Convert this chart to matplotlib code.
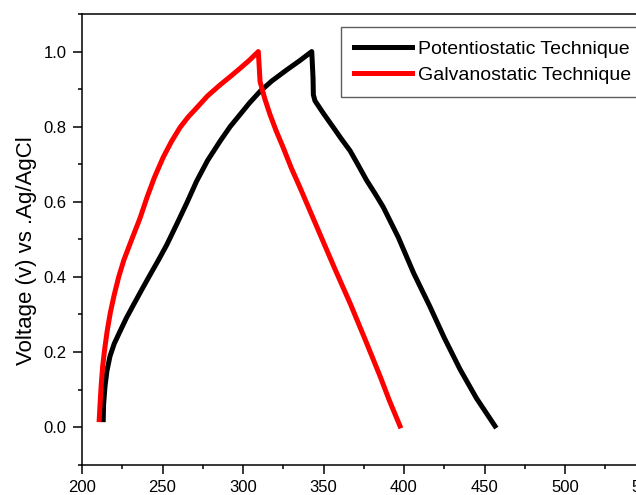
import numpy as np
import matplotlib
matplotlib.use("Agg")
import matplotlib.pyplot as plt
from matplotlib.ticker import MultipleLocator, FormatStrFormatter

# Potentiostatic technique (black)
pot_t = [213.2, 213.4, 214.3, 215.5, 217.4, 220.0, 223.6, 227.5, 231.9, 237.0,
         242.2, 247.5, 252.6, 258.8, 265.0, 271.2, 278.0, 285.7, 292.0, 298.1,
         304.0, 310.6, 318.0, 327.1, 335.0, 342.7, 343.5, 343.7, 344.7, 350.0,
         356.1, 361.0, 366.5, 371.5, 376.8, 382.0, 387.1, 396.5, 406.0, 416.1,
         425.0, 434.8, 445.0, 456.5]
pot_v = [0.02, 0.06, 0.109, 0.15, 0.189, 0.222, 0.255, 0.29, 0.325, 0.365,
         0.405, 0.445, 0.485, 0.54, 0.596, 0.655, 0.71, 0.761, 0.80, 0.832,
         0.863, 0.894, 0.922, 0.951, 0.975, 1.0, 0.93, 0.885, 0.869, 0.835,
         0.798, 0.768, 0.736, 0.698, 0.657, 0.622, 0.586, 0.505, 0.41, 0.321,
         0.238, 0.154, 0.077, 0.003]

# Galvanostatic technique (red)
gal_t = [210.7, 211.2, 211.9, 212.8, 214.0, 215.6, 217.6, 220.0, 222.8, 226.0,
         230.9, 236.0, 240.4, 245.0, 250.5, 255.5, 260.9, 266.0, 271.2, 278.0,
         285.7, 292.0, 298.1, 304.0, 309.5, 310.2, 310.6, 313.5, 316.8, 320.5,
         325.0, 330.0, 335.4, 341.5, 347.8, 357.0, 366.5, 376.0, 385.1, 391.0,
         397.5]
gal_v = [0.02, 0.06, 0.11, 0.16, 0.205, 0.255, 0.305, 0.352, 0.40, 0.445,
         0.50, 0.556, 0.612, 0.665, 0.719, 0.76, 0.798, 0.826, 0.850, 0.882,
         0.911, 0.933, 0.955, 0.977, 1.0, 0.95, 0.92, 0.875, 0.832, 0.79,
         0.744, 0.69, 0.638, 0.577, 0.514, 0.422, 0.330, 0.232, 0.136, 0.07,
         0.003]

plt.rcParams['font.family'] = ['Liberation Sans', 'DejaVu Sans']

fig = plt.figure(figsize=(6.36, 4.95), dpi=100)
ax = fig.add_axes([82 / 636, 1 - 464.7 / 495, 644 / 636, 450.7 / 495])

ax.plot(pot_t, pot_v, color='black', lw=3.6, solid_joinstyle='round',
        label='Potentiostatic Technique')
ax.plot(gal_t, gal_v, color='#ff0000', lw=3.6, solid_joinstyle='round',
        label='Galvanostatic Technique')

ax.set_xlim(200, 600)
ax.set_ylim(-0.1, 1.1)
ax.xaxis.set_major_locator(MultipleLocator(50))
ax.xaxis.set_minor_locator(MultipleLocator(25))
ax.yaxis.set_major_locator(MultipleLocator(0.2))
ax.yaxis.set_minor_locator(MultipleLocator(0.1))
ax.yaxis.set_major_formatter(FormatStrFormatter('%.1f'))
ax.tick_params(which='major', direction='out', length=6.2, width=1.1,
               labelsize=12, pad=5)
ax.tick_params(which='minor', direction='out', length=3, width=1.1)
for s in ax.spines.values():
    s.set_linewidth(1.1)

ax.set_ylabel('Voltage (v) vs .Ag/AgCl', fontsize=16)
ax.yaxis.set_label_coords(-0.070, 0.476)

leg = ax.legend(loc='upper left', bbox_to_anchor=(341 / 636, 1 - 27 / 495),
                bbox_transform=fig.transFigure, borderaxespad=0,
                fontsize=14, fancybox=False, handlelength=2.95,
                handletextpad=0.31, borderpad=0.68, labelspacing=0.45)
leg.get_frame().set_edgecolor('#333333')
leg.get_frame().set_linewidth(1.0)

fig.savefig('out.png', dpi=100)
